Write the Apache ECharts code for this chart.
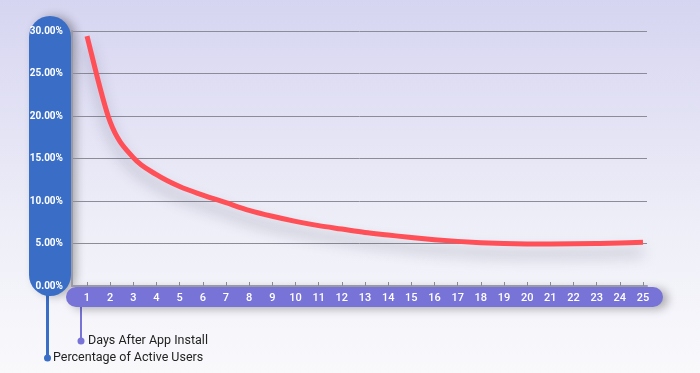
<!DOCTYPE html>
<html><head><meta charset="utf-8">
<script src="https://cdn.jsdelivr.net/npm/echarts@6/dist/echarts.min.js"></script>
<style>html,body{margin:0;padding:0;}#c{width:700px;height:373px;}</style>
</head><body><div id="c"></div>
<script>
const days = [1,2,3,4,5,6,7,8,9,10,11,12,13,14,15,16,17,18,19,20,21,22,23,24,25];
const activeUsers = [29.4,19.3,15.1,13.1,11.7,10.7,9.8,8.9,8.2,7.6,7.1,6.7,6.3,6.0,5.7,5.45,5.25,5.1,5.0,4.95,4.95,4.97,5.0,5.05,5.15];
const yMin = 0, yMax = 30, yStep = 5;
const xTitle = 'Days After App Install';
const yTitle = 'Percentage of Active Users';

const FONT = "Roboto,'Noto Sans',sans-serif";
const chart = echarts.init(document.getElementById('c'), null, {renderer:'canvas'});

function renderCurve(params, api) {
  if (params.dataIndex !== 0) return null;
  const P = days.map((d,i)=>api.coord([d, activeUsers[i]]));
  const n = P.length;
  let d = 'M' + P[0][0] + ' ' + P[0][1];
  for (let i = 0; i < n-1; i++) {
    const p0 = P[Math.max(0,i-1)], p1 = P[i], p2 = P[i+1], p3 = P[Math.min(n-1,i+2)];
    const c1 = [p1[0] + (p2[0]-p0[0])/6, p1[1] + (p2[1]-p0[1])/6];
    const c2 = [p2[0] - (p3[0]-p1[0])/6, p2[1] - (p3[1]-p1[1])/6];
    d += ' C' + c1[0] + ' ' + c1[1] + ' ' + c2[0] + ' ' + c2[1] + ' ' + p2[0] + ' ' + p2[1];
  }
  return {
    type:'path', shape:{pathData:d},
    style:{fill:null, stroke:'#ff4f57', lineWidth:5, shadowColor:'rgba(60,60,90,0.35)', shadowBlur:14, shadowOffsetY:10}
  };
}

const option = {
  animation: false,
  backgroundColor: new echarts.graphic.LinearGradient(0,0,0,1,[
    {offset:0,color:'#d6d5f1'},{offset:0.6,color:'#eeeef8'},{offset:1,color:'#f9f9fc'}
  ]),
  grid: [
    {left:72, right:53, top:31, bottom:87},
    {left:87, right:57, top:31, bottom:87}
  ],
  xAxis: [
    {gridIndex:0, type:'value', min:0, max:1, axisLine:{show:true,lineStyle:{color:'#9a9aa6',width:2}},
     axisTick:{show:false}, axisLabel:{show:false}, splitLine:{show:false}},
    {gridIndex:1, type:'value', min:1, max:25, interval:1,
     axisLine:{show:false}, axisTick:{show:true,inside:true,length:4,lineStyle:{color:'#8a8a96'}},
     axisLabel:{color:'#ffffff',fontSize:11,fontFamily:FONT,fontWeight:500,margin:7},
     splitLine:{show:false}}
  ],
  yAxis: [
    {gridIndex:0, type:'value', min:yMin, max:yMax, interval:yStep,
     axisLine:{show:true,lineStyle:{color:'#9a9aa6',width:2}}, axisTick:{show:false},
     axisLabel:{color:'#ffffff',fontSize:10,fontFamily:FONT,fontWeight:'bold',margin:9,
       formatter:v=>v.toFixed(2)+'%'},
     splitLine:{show:true,lineStyle:{color:'#8c8c98',width:1}}},
    {gridIndex:1, type:'value', min:yMin, max:yMax, show:false, splitLine:{show:false}}
  ],
  series: [{
    type:'custom', xAxisIndex:1, yAxisIndex:1, renderItem: renderCurve, clip:false,
    encode:{x:0, y:1},
    data: days.map((d,i)=>[d, activeUsers[i]]),
    z:5
  }],
  graphic: [
    {type:'rect', z:-1, shape:{x:29,y:16,width:42,height:280,r:21},
     style:{fill:'#3a6ec6', shadowBlur:10, shadowOffsetX:5, shadowColor:'rgba(0,0,0,0.3)'}},
    {type:'rect', z:-1, shape:{x:66,y:287,width:597,height:20,r:10},
     style:{fill:'#7873d6', shadowBlur:10, shadowOffsetX:5, shadowOffsetY:2, shadowColor:'rgba(0,0,0,0.3)'}},
    {type:'line', z:-2, shape:{x1:47.5,y1:290,x2:47.5,y2:358}, style:{stroke:'#3a6ec6',lineWidth:3}},
    {type:'circle', z:1, shape:{cx:47.5,cy:358,r:3.5}, style:{fill:'#3a6ec6'}},
    {type:'text', z:1, x:53, y:358, style:{text:yTitle, fill:'#222', fontSize:12.5, fontFamily:FONT, verticalAlign:'middle'}},
    {type:'line', z:-2, shape:{x1:81,y1:300,x2:81,y2:341}, style:{stroke:'#7873d6',lineWidth:2}},
    {type:'circle', z:1, shape:{cx:81,cy:341,r:3.5}, style:{fill:'#7873d6'}},
    {type:'text', z:1, x:88, y:341, style:{text:xTitle, fill:'#222', fontSize:12.5, fontFamily:FONT, verticalAlign:'middle'}}
  ]
};
chart.setOption(option);
</script></body></html>
